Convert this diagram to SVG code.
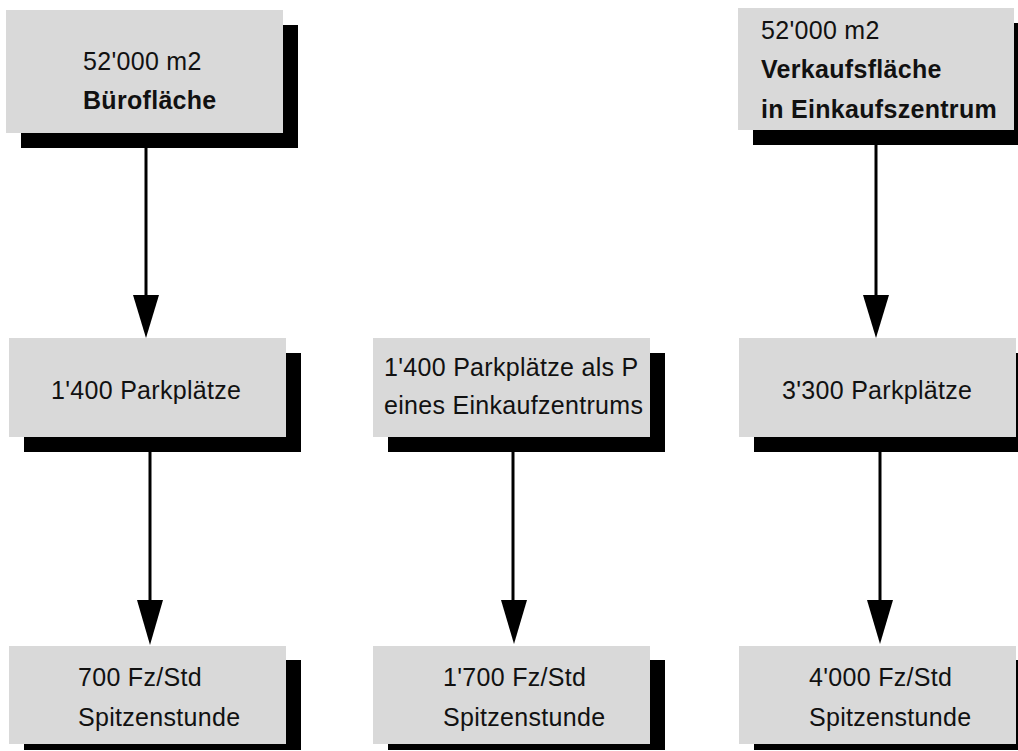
<svg xmlns="http://www.w3.org/2000/svg" width="1018" height="751" viewBox="0 0 1018 751">
<defs>
<style>
.box{fill:#d9d9d9}
.sh{fill:#000}
.t{font-family:"Liberation Sans",Arial,sans-serif;font-size:25px;letter-spacing:0.3px;fill:#111}
.b{font-weight:bold}
.ln{stroke:#000;stroke-width:3;fill:none}
.ah{fill:#000}
</style>
</defs>
<rect width="1018" height="751" fill="#fff"/>
<g id="connectors">
<line class="ln" x1="146" y1="148" x2="146" y2="298"/>
<polygon class="ah" points="133,295 159,295 146,338"/>
<line class="ln" x1="876" y1="145" x2="876" y2="298"/>
<polygon class="ah" points="863,295 889,295 876,338"/>
<line class="ln" x1="150" y1="452" x2="150" y2="603"/>
<polygon class="ah" points="137,600 163,600 150,645"/>
<line class="ln" x1="513" y1="452" x2="513" y2="603"/>
<polygon class="ah" points="501,600 527,600 514,644"/>
<line class="ln" x1="880" y1="452" x2="880" y2="603"/>
<polygon class="ah" points="867,600 893,600 880,644"/>
</g>
<g id="n1">
<rect class="sh" x="21" y="25" width="277" height="123"/>
<rect class="box" x="6" y="10" width="277" height="123"/>
<text class="t" x="83" y="70">52'000 m2</text>
<text class="t b" x="83" y="109">Bürofläche</text>
</g>
<g id="n2">
<rect class="sh" x="753" y="23" width="276" height="122"/>
<rect class="box" x="738" y="8" width="276" height="122"/>
<text class="t" x="761" y="39">52'000 m2</text>
<text class="t b" x="761" y="78">Verkaufsfläche</text>
<text class="t b" x="761" y="118">in Einkaufszentrum</text>
</g>
<g id="n3">
<rect class="sh" x="24" y="353" width="277" height="99"/>
<rect class="box" x="9" y="338" width="277" height="99"/>
<text class="t" x="51" y="399">1'400 Parkplätze</text>
</g>
<g id="n4">
<rect class="sh" x="388" y="353" width="277" height="99"/>
<rect class="box" x="373" y="338" width="277" height="99"/>
<text class="t" x="384" y="376">1'400 Parkplätze als P</text>
<text class="t" x="384" y="414">eines Einkaufzentrums</text>
</g>
<g id="n5">
<rect class="sh" x="754" y="353" width="277" height="99"/>
<rect class="box" x="739" y="338" width="277" height="99"/>
<text class="t" x="782" y="399">3'300 Parkplätze</text>
</g>
<g id="n6">
<rect class="sh" x="24" y="660" width="277" height="90"/>
<rect class="box" x="9" y="646" width="277" height="98"/>
<text class="t" x="78" y="686">700 Fz/Std</text>
<text class="t" x="78" y="726">Spitzenstunde</text>
</g>
<g id="n7">
<rect class="sh" x="388" y="660" width="277" height="90"/>
<rect class="box" x="373" y="646" width="277" height="98"/>
<text class="t" x="443" y="686">1'700 Fz/Std</text>
<text class="t" x="443" y="726">Spitzenstunde</text>
</g>
<g id="n8">
<rect class="sh" x="754" y="660" width="277" height="90"/>
<rect class="box" x="739" y="646" width="277" height="98"/>
<text class="t" x="809" y="686">4'000 Fz/Std</text>
<text class="t" x="809" y="726">Spitzenstunde</text>
</g>
</svg>
